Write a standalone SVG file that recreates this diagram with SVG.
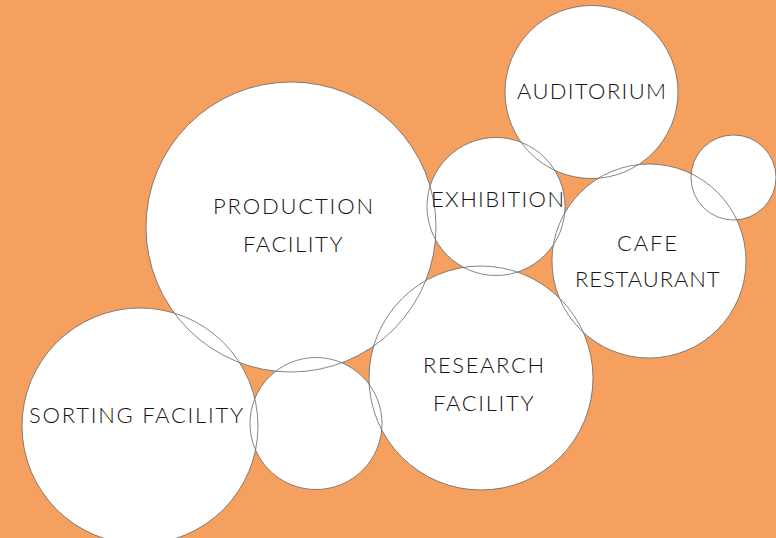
<svg xmlns="http://www.w3.org/2000/svg" xmlns:xlink="http://www.w3.org/1999/xlink" width="776" height="538" viewBox="0 0 776 538">
  <style>
    .fill { fill: #ffffff; stroke: none; }
    .ring { fill: none; stroke: #666666; stroke-width: 0.8; }
    .label { font-family: Lato, "Liberation Sans", Arial, sans-serif; font-weight: 300; font-size: 22px; fill: #141414; }
  </style>
  <defs>
    <circle id="c-production" cx="291" cy="227" r="145"/>
    <circle id="c-sorting" cx="140" cy="426" r="118"/>
    <circle id="c-link" cx="316" cy="423.5" r="66"/>
    <circle id="c-research" cx="481" cy="378" r="112"/>
    <circle id="c-exhibition" cx="496" cy="206.5" r="69"/>
    <circle id="c-auditorium" cx="591.5" cy="92" r="86.5"/>
    <circle id="c-cafe" cx="649" cy="261" r="97"/>
    <circle id="c-annex" cx="733.5" cy="177.5" r="42.5"/>
  </defs>

  <!-- background -->
  <rect width="776" height="538" fill="#f6a05f"/>

  <!-- white discs, painted first so every outline stays visible -->
  <g id="fills">
    <use xlink:href="#c-production" class="fill"/>
    <use xlink:href="#c-sorting" class="fill"/>
    <use xlink:href="#c-link" class="fill"/>
    <use xlink:href="#c-research" class="fill"/>
    <use xlink:href="#c-exhibition" class="fill"/>
    <use xlink:href="#c-auditorium" class="fill"/>
    <use xlink:href="#c-cafe" class="fill"/>
    <use xlink:href="#c-annex" class="fill"/>
  </g>

  <g id="node-production">
    <use xlink:href="#c-production" class="ring"/>
    <text class="label" x="213" y="214" textLength="160" lengthAdjust="spacing">PRODUCTION</text>
    <text class="label" x="243" y="251.7" textLength="99.5" lengthAdjust="spacing">FACILITY</text>
  </g>

  <g id="node-sorting">
    <use xlink:href="#c-sorting" class="ring"/>
    <text class="label" x="29" y="423" textLength="214" lengthAdjust="spacing">SORTING FACILITY</text>
  </g>

  <g id="node-link">
    <use xlink:href="#c-link" class="ring"/>
  </g>

  <g id="node-research">
    <use xlink:href="#c-research" class="ring"/>
    <text class="label" x="423" y="373.3" textLength="121" lengthAdjust="spacing">RESEARCH</text>
    <text class="label" x="433" y="410.7" textLength="100.5" lengthAdjust="spacing">FACILITY</text>
  </g>

  <g id="node-exhibition">
    <use xlink:href="#c-exhibition" class="ring"/>
    <text class="label" x="431" y="207" textLength="133" lengthAdjust="spacing">EXHIBITION</text>
  </g>

  <g id="node-auditorium">
    <use xlink:href="#c-auditorium" class="ring"/>
    <text class="label" x="517" y="99" textLength="149" lengthAdjust="spacing">AUDITORIUM</text>
  </g>

  <g id="node-cafe">
    <use xlink:href="#c-cafe" class="ring"/>
    <text class="label" x="617" y="250.7" textLength="60" lengthAdjust="spacing">CAFE</text>
    <text class="label" x="575" y="286.7" textLength="144.5" lengthAdjust="spacing">RESTAURANT</text>
  </g>

  <g id="node-annex">
    <use xlink:href="#c-annex" class="ring"/>
  </g>
</svg>
